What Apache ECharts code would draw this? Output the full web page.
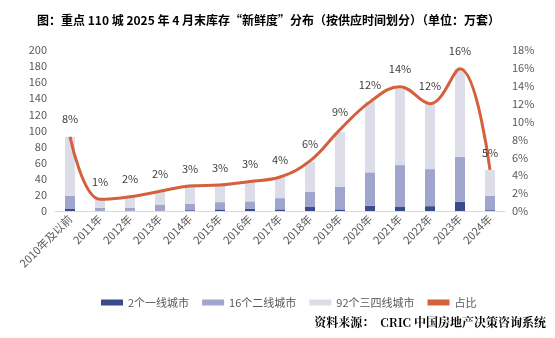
<!DOCTYPE html>
<html>
<head>
<meta charset="utf-8">
<script src="https://cdn.jsdelivr.net/npm/echarts@6/dist/echarts.min.js"></script>
<style>
  html, body { margin: 0; padding: 0; background: #fff; }
  #chart { width: 555px; height: 338px; }
</style>
</head>
<body>
<div id="chart"></div>
<script>
// Inventory by supply year, 110 key cities (unit: 10k units)
const categories = ['2010年及以前', '2011年', '2012年', '2013年', '2014年', '2015年', '2016年', '2017年',
  '2018年', '2019年', '2020年', '2021年', '2022年', '2023年', '2024年'];
const tier1 = [2.5, 0.5, 0.5, 0.5, 1, 2, 3, 2, 5, 2, 6.5, 5, 6, 11.5, 1];
const tier2 = [16.5, 3.5, 3.5, 7.5, 8, 9, 9, 14, 19, 28, 41.5, 52, 46, 55.5, 18];
const tier34 = [73, 12, 13, 16, 24, 23, 24, 26, 37, 68, 88, 95, 82, 110, 32];
const share = [8.3, 1.3, 1.6, 2.2, 2.8, 2.9, 3.3, 3.8, 5.6, 9.1, 12.2, 13.9, 12.0, 15.9, 4.6];
const leftTicks = { min: 0, max: 200, interval: 20 };
const rightTicks = { min: 0, max: 18, interval: 2 };

const chart = echarts.init(document.getElementById('chart'), null, { renderer: 'canvas' });
const txt = '#595959';
const font = '"Microsoft YaHei", "Noto Sans CJK SC", sans-serif';
const serifBold = '"Noto Serif CJK SC", "Noto Sans CJK SC", serif';

chart.setOption({
  animation: false,
  backgroundColor: '#fff',
  textStyle: { fontFamily: font },
  title: [{
    text: '图：重点 110 城 2025 年 4 月末库存“新鲜度”分布（按供应时间划分）（单位：万套）',
    left: 32, top: 9,
    textStyle: { fontSize: 12, fontWeight: 'bold', color: '#000', fontFamily: font }
  }, {
    text: '资料来源：  CRIC 中国房地产决策咨询系统',
    right: 4, top: 311,
    textStyle: { fontSize: 12, fontWeight: 'bold', color: '#000', fontFamily: serifBold }
  }],
  legend: {
    top: 292, left: 96,
    itemWidth: 22, itemHeight: 6, itemGap: 13,
    textStyle: { fontSize: 11, color: txt },
    data: [
      { name: '2个一线城市', icon: 'rect' },
      { name: '16个二线城市', icon: 'rect' },
      { name: '92个三四线城市', icon: 'rect' },
      { name: '占比', icon: 'rect', itemStyle: { color: '#d4603c' } }
    ]
  },
  grid: { left: 55, right: 50, top: 50, bottom: 127 },
  xAxis: {
    type: 'category',
    data: categories,
    axisLine: { lineStyle: { color: '#d9d9d9' } },
    axisTick: { show: false },
    axisLabel: { rotate: 45, fontSize: 11, color: txt, margin: 6, interval: 0 }
  },
  yAxis: [{
    type: 'value',
    min: leftTicks.min, max: leftTicks.max, interval: leftTicks.interval,
    splitLine: { show: false },
    axisLine: { show: false }, axisTick: { show: false },
    axisLabel: { fontSize: 11, color: txt, margin: 8 }
  }, {
    type: 'value',
    min: rightTicks.min, max: rightTicks.max, interval: rightTicks.interval,
    splitLine: { show: false },
    axisLine: { show: false }, axisTick: { show: false },
    axisLabel: { fontSize: 11, color: txt, margin: 7, formatter: '{value}%' }
  }],
  series: [{
    name: '2个一线城市', type: 'bar', stack: 'inv', barWidth: 10,
    itemStyle: { color: '#3a4a8a' }, data: tier1
  }, {
    name: '16个二线城市', type: 'bar', stack: 'inv', barWidth: 10,
    itemStyle: { color: '#9fa5cc' }, data: tier2
  }, {
    name: '92个三四线城市', type: 'bar', stack: 'inv', barWidth: 10,
    itemStyle: { color: '#dcdde9' }, data: tier34
  }, {
    name: '占比', type: 'line', yAxisIndex: 1, smooth: 0.4,
    symbol: 'circle', symbolSize: 0, showSymbol: true,
    lineStyle: { color: '#d4603c', width: 3 },
    itemStyle: { color: '#d4603c' },
    label: {
      show: true, position: 'top', distance: 12,
      fontSize: 11, color: '#404040',
      formatter: p => Math.round(p.value) + '%'
    },
    data: share
  }]
});
</script>
</body>
</html>
